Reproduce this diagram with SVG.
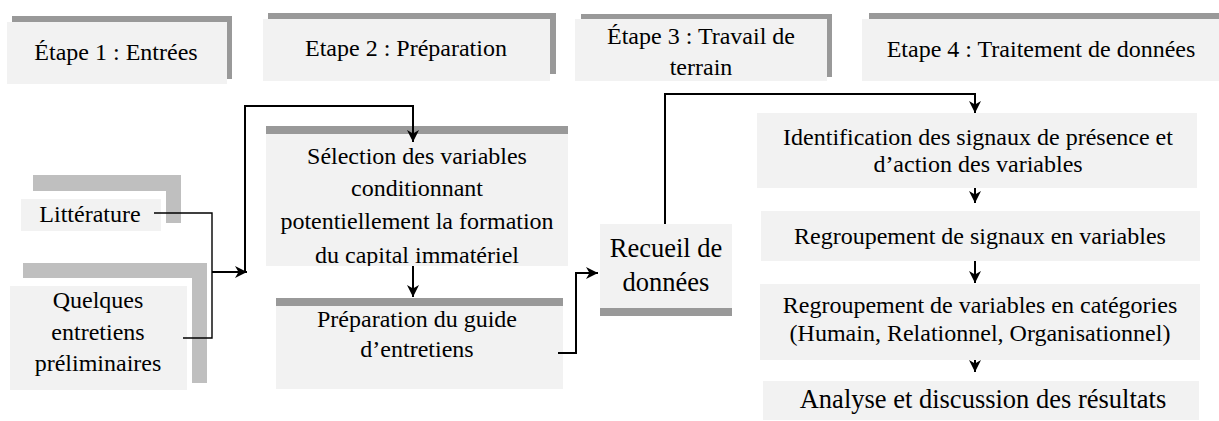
<svg xmlns="http://www.w3.org/2000/svg" width="1219" height="421" viewBox="0 0 1219 421">
<style>
.box{fill:#f2f2f2}
.sh{fill:#999999}
.lsh{fill:#bfbfbf}
.t{font-family:"Liberation Serif","Times New Roman",serif;font-size:24px;fill:#000;text-anchor:middle}
.big{font-size:26.5px}
.conn{fill:none;stroke:#000;stroke-width:2}
.thin{stroke-width:1.4}
</style>
<defs>
<marker id="arr" markerUnits="userSpaceOnUse" markerWidth="14" markerHeight="14" viewBox="-13 -7 14 14" refX="0" refY="0" orient="auto">
<path d="M0,0 L-12,-6 L-8.5,0 L-12,6 Z" fill="#000"/>
</marker>
<clipPath id="clipSel"><rect x="266" y="134" width="302" height="132"/></clipPath>
</defs>
<rect width="1219" height="421" fill="#fff"/>

<g id="step1">
<rect class="sh" x="12" y="16" width="220" height="63"/>
<rect class="box" x="7" y="22" width="220" height="62"/>
<text class="t" x="116" y="60">Étape 1 : Entrées</text>
</g>
<g id="step2">
<rect class="sh" x="268" y="13" width="288" height="61"/>
<rect class="box" x="263" y="19" width="287" height="62"/>
<text class="t" x="406" y="56">Etape 2 : Préparation</text>
</g>
<g id="step3">
<rect class="sh" x="581" y="14" width="251" height="63"/>
<rect class="box" x="575" y="19" width="252" height="62"/>
<text class="t" x="701" y="44">Étape 3 : Travail de</text>
<text class="t" x="701" y="75">terrain</text>
</g>
<g id="step4">
<rect class="sh" x="869" y="13" width="360" height="62"/>
<rect class="box" x="862" y="19" width="360" height="62"/>
<text class="t" x="1041" y="57">Etape 4 : Traitement de données</text>
</g>

<g id="litterature">
<path class="lsh" d="M33,175 H181 V223 H166 V191 H33 Z"/>
<rect class="box" x="21" y="199" width="140" height="32"/>
<text class="t" x="90" y="222">Littérature</text>
</g>
<g id="entretiens">
<path class="lsh" d="M23,263 H207 V383 H192 V278 H23 Z"/>
<rect class="box" x="10" y="286" width="177" height="104"/>
<text class="t" x="98" y="308">Quelques</text>
<text class="t" x="98" y="340">entretiens</text>
<text class="t" x="98" y="371">préliminaires</text>
</g>

<g id="selection">
<rect class="sh" x="266" y="126" width="302" height="8"/>
<rect class="box" x="266" y="134" width="302" height="132"/>
<g clip-path="url(#clipSel)">
<text class="t" x="417" y="164">Sélection des variables</text>
<text class="t" x="417" y="196">conditionnant</text>
<text class="t" x="417" y="229">potentiellement la formation</text>
<text class="t" x="417" y="263">du capital immatériel</text>
</g>
</g>
<g id="guide">
<rect class="sh" x="276" y="298" width="287" height="8"/>
<rect class="box" x="276" y="306" width="287" height="83"/>
<text class="t" x="417" y="327">Préparation du guide</text>
<text class="t" x="417" y="357">d’entretiens</text>
</g>
<g id="recueil">
<rect class="box" x="600" y="224" width="132" height="84"/>
<rect class="sh" x="600" y="308" width="132" height="8"/>
<text class="t big" x="666" y="257">Recueil de</text>
<text class="t big" x="666" y="291">données</text>
</g>

<g id="identification">
<rect class="box" x="757" y="113" width="440" height="75"/>
<text class="t" x="978" y="145">Identification des signaux de présence et</text>
<text class="t" x="978" y="172">d’action des variables</text>
</g>
<g id="signaux">
<rect class="box" x="761" y="211" width="439" height="50"/>
<text class="t" x="980" y="244">Regroupement de signaux en variables</text>
</g>
<g id="categories">
<rect class="box" x="760" y="284" width="440" height="76"/>
<text class="t" x="980" y="313">Regroupement de variables en catégories</text>
<text class="t" x="980" y="341">(Humain, Relationnel, Organisationnel)</text>
</g>
<g id="analyse">
<rect class="box" x="763" y="381" width="436" height="39"/>
<text class="t big" x="983" y="408">Analyse et discussion des résultats</text>
</g>

<g id="connectors">
<path class="conn thin" d="M154,213 H212 V338 H183"/>
<path class="conn" d="M212,272 H247" marker-end="url(#arr)"/>
<path class="conn" d="M245,272 V106 H413 V142" marker-end="url(#arr)"/>
<path class="conn" d="M413,266 V297" marker-end="url(#arr)"/>
<path class="conn" d="M558,353 H576 V273 H598" marker-end="url(#arr)"/>
<path class="conn" d="M665,224 V94 H975 V113" marker-end="url(#arr)"/>
<path class="conn" d="M975,188 V203" marker-end="url(#arr)"/>
<path class="conn" d="M975,261 V283" marker-end="url(#arr)"/>
<path class="conn" d="M975,360 V372" marker-end="url(#arr)"/>
</g>
</svg>
